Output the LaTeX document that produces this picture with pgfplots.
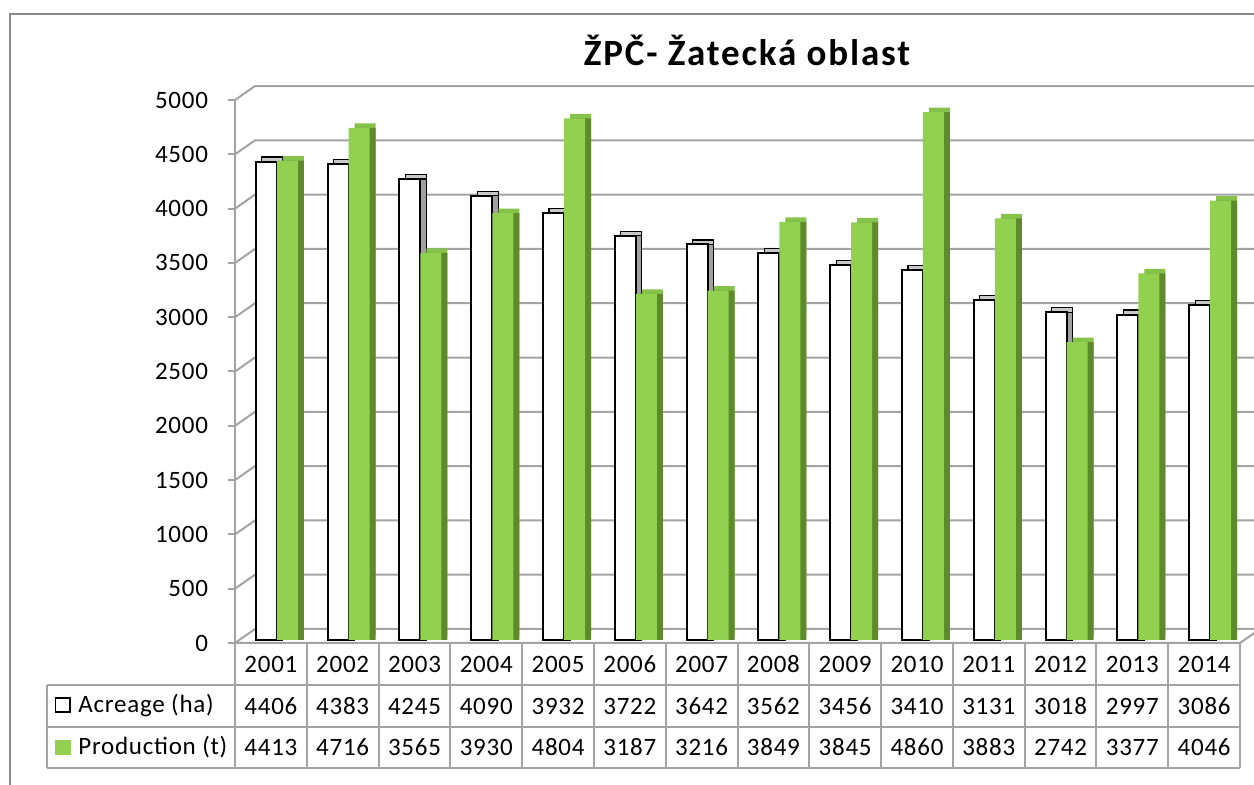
\documentclass[border=0pt]{standalone}
\usepackage{pgfplots}
\pgfplotsset{compat=1.18}
\usepackage{pgfplotstable}
\usepackage{fontspec}
\setmainfont{Carlito}
\newcommand\tabfont{\fontsize{12.5}{15}\selectfont\addfontfeatures{LetterSpace=3}}
\newcommand\titlefont{\fontsize{18.5}{22}\selectfont\bfseries\addfontfeatures{LetterSpace=5}}
\definecolor{gfront}{HTML}{92D050}
\definecolor{gside}{HTML}{5E8A2D}
\definecolor{gtop}{HTML}{84C24A}
\definecolor{wside}{HTML}{A0A0A0}
\definecolor{wtop}{HTML}{C8C8C8}
\definecolor{lgray}{HTML}{A3A3A3}
\definecolor{fgray}{HTML}{898989}

\pgfplotstableread{
x year acre prod
0 2001 4406 4413
1 2002 4383 4716
2 2003 4245 3565
3 2004 4090 3930
4 2005 3932 4804
5 2006 3722 3187
6 2007 3642 3216
7 2008 3562 3849
8 2009 3456 3845
9 2010 3410 4860
10 2011 3131 3883
11 2012 3018 2742
12 2013 2997 3377
13 2014 3086 4046
}\data

\begin{document}
\begin{tikzpicture}
\useasboundingbox (0pt,0pt) rectangle (627pt,-392.5pt);
\clip (0pt,0pt) rectangle (627pt,-392.5pt);
\begin{scope}[x=0.5pt,y=-0.5pt]
  % frame
  \draw[fgray, line width=1pt] (10,800) -- (10,14) -- (1270,14);
  % title
  \node[font=\titlefont, anchor=base] at (747,66) {ŽPČ- Žatecká oblast};
  % back wall gridlines and left wall
  \foreach \v in {0,500,...,5000} {
    \pgfmathsetmacro\fy{643-\v*0.1086}
    \draw[lgray, line width=1pt] (235,\fy) -- (255,\fy-14) -- (1260,\fy-14);
  }
  % floor front edge
  \draw[lgray, line width=1pt] (235,643) -- (1240,643) -- (1260,629);
\end{scope}

\begin{axis}[
  at={(117.5pt,-321.5pt)}, anchor=south west,
  width=502.5pt, height=271.5pt, scale only axis,
  xmin=-0.5, xmax=13.5, ymin=0, ymax=5000,
  axis x line=none, axis y line*=left,
  axis line style={lgray, line width=1pt, -},
  ytick={0,500,...,5000},
  tick style={lgray, line width=1pt},
  tick align=outside, major tick length=3.5pt,
  yticklabel style={font=\tabfont, xshift=-6.5pt},
  /pgf/number format/1000 sep={},
  /pgf/number format/assume math mode=true,
  ybar, bar width=10.5pt,
  clip=false,
]
\addplot[draw=black, fill=wtop, line width=0.6pt, bar shift=-5.25pt, xshift=6pt, yshift=3.75pt] table[x=x,y=acre]{\data};
\addplot[draw=black, fill=wside, line width=0.6pt, bar shift=-5.25pt, xshift=6pt, yshift=1.5pt] table[x=x,y=acre]{\data};
\addplot[draw=black, fill=white, line width=1pt, bar shift=-5.25pt, xshift=3pt, yshift=1.5pt] table[x=x,y=acre]{\data};
\addplot[draw=none, fill=gtop, bar shift=5.25pt, xshift=6pt, yshift=3.75pt] table[x=x,y=prod]{\data};
\addplot[draw=none, fill=gside, bar shift=5.25pt, xshift=6pt, yshift=1.5pt] table[x=x,y=prod]{\data};
\addplot[draw=none, fill=gfront, bar shift=5.25pt, xshift=3pt, yshift=1.5pt] table[x=x,y=prod]{\data};
\end{axis}

\begin{scope}[x=0.5pt,y=-0.5pt]
  % data table grid
  \foreach \k in {0,...,14} {
    \draw[lgray, line width=1pt] (235+71.786*\k,643) -- (235+71.786*\k,768);
  }
  \draw[lgray, line width=1pt] (47,685) -- (1240,685);
  \draw[lgray, line width=1pt] (47,727) -- (1240,727);
  \draw[lgray, line width=1pt] (47,768) -- (1240,768);
  \draw[lgray, line width=1pt] (47,685) -- (47,768);
  % row headers
  \draw[black, line width=0.8pt, fill=white] (55.5,698) rectangle (70,712);
  \fill[gfront] (55,740) rectangle (71,755);
  \node[font=\tabfont, anchor=west, inner sep=0pt] at (78,706) {Acreage (ha)};
  \node[font=\tabfont, anchor=west, inner sep=0pt] at (78,747) {Production (t)};
  \foreach \i in {0,...,13} {
    \pgfmathsetmacro\cx{235+71.786*(\i+0.5)}
    \pgfplotstablegetelem{\i}{year}\of\data
    \node[font=\tabfont, inner sep=0pt] at (\cx,664) {\pgfplotsretval};
    \pgfplotstablegetelem{\i}{acre}\of\data
    \node[font=\tabfont, inner sep=0pt] at (\cx,706) {\pgfplotsretval};
    \pgfplotstablegetelem{\i}{prod}\of\data
    \node[font=\tabfont, inner sep=0pt] at (\cx,747) {\pgfplotsretval};
  }
\end{scope}
\end{tikzpicture}
\end{document}
